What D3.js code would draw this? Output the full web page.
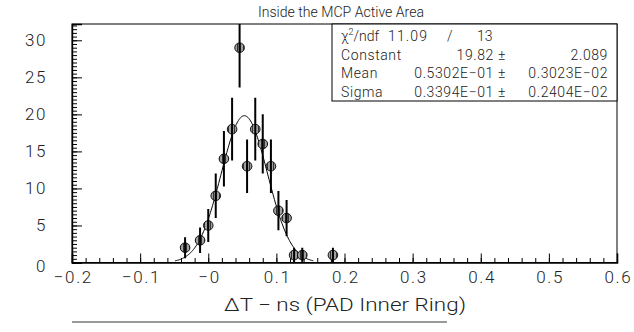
<!DOCTYPE html>
<html>
<head>
<meta charset="utf-8">
<script src="https://d3js.org/d3.v7.min.js"></script>
<style>
  body { margin: 0; background: #fff; }
  svg text { font-family: Roboto, "Liberation Sans", sans-serif; font-weight: 300; fill: #222; }
</style>
</head>
<body>
<svg width="634" height="332"></svg>
<script>
// bin centres (ns) and entries
var binX = [-0.034, -0.012, 0.000, 0.011, 0.023, 0.035, 0.046, 0.057,
            0.069, 0.080, 0.092, 0.103, 0.115, 0.126, 0.138, 0.183];
var counts = [2, 3, 5, 9, 14, 18, 29, 13, 18, 16, 13, 7, 6, 1, 1, 1];

var xTicks = [-0.2, -0.1, 0, 0.1, 0.2, 0.3, 0.4, 0.5, 0.6];
var xTickLabels = ["\u22120.2", "\u22120.1", "\u22120", "0.1", "0.2", "0.3", "0.4", "0.5", "0.6"];
var yTicks = [0, 5, 10, 15, 20, 25, 30];

// gaussian fit parameters (stats box)
var fitConst = 19.82, fitMean = 0.05302, fitSigma = 0.03394;
var statsRows = [
  ["Constant", "19.82 \u00b1", "2.089"],
  ["Mean", "0.5302E\u221201 \u00b1", "0.3023E\u221202"],
  ["Sigma", "0.3394E\u221201 \u00b1", "0.2404E\u221202"]
];

var pLeft = 72, pRight = 617, pTop = 24, pBottom = 262.5;

var svg = d3.select("svg");

var x = d3.scaleLinear().domain([-0.2, 0.6]).range([pLeft, pRight]);
var y = d3.scaleLinear().domain([0, 32.2]).range([pBottom, pTop]);

var defs = svg.append("defs");
defs.append("clipPath").attr("id", "clip")
  .append("rect").attr("x", pLeft).attr("y", pTop)
  .attr("width", pRight - pLeft).attr("height", pBottom - pTop);

// striped marker fill
var pat = defs.append("pattern").attr("id", "stripe")
  .attr("patternUnits", "userSpaceOnUse").attr("width", 3).attr("height", 3);
pat.append("rect").attr("width", 3).attr("height", 3).attr("fill", "#a0a0a0");
pat.append("rect").attr("width", 1).attr("height", 3).attr("fill", "#333");

// frame
svg.append("rect")
  .attr("x", pLeft).attr("y", pTop)
  .attr("width", pRight - pLeft).attr("height", pBottom - pTop)
  .attr("fill", "none").attr("stroke", "#000").attr("stroke-width", 1);

// minor ticks
svg.append("g")
  .attr("transform", "translate(0," + pBottom + ")")
  .call(d3.axisBottom(x).tickValues(d3.range(-0.2, 0.6001, 0.02)).tickSize(-4.5).tickFormat(""))
  .call(function(g) { g.select(".domain").remove(); });
svg.append("g")
  .attr("transform", "translate(" + pLeft + ",0)")
  .call(d3.axisLeft(y).tickValues(d3.range(0, 32.01, 0.5)).tickSize(-5).tickFormat(""))
  .call(function(g) { g.select(".domain").remove(); });

// major ticks + labels
var xAxis = svg.append("g")
  .attr("transform", "translate(0," + pBottom + ")")
  .call(d3.axisBottom(x).tickValues(xTicks).tickSize(-9).tickPadding(6)
    .tickFormat(function(d, i) { return xTickLabels[i]; }));
xAxis.select(".domain").attr("stroke-width", 1.6);
xAxis.selectAll("text").attr("font-size", 17).attr("dy", "0.85em")
  .style("letter-spacing", "1.6px").attr("dx", 0.8);

var yAxis = svg.append("g")
  .attr("transform", "translate(" + pLeft + ",0)")
  .call(d3.axisLeft(y).tickValues(yTicks).tickSize(-10).tickPadding(25));
yAxis.select(".domain").attr("stroke-width", 1.4);
yAxis.selectAll("text").attr("font-size", 17).style("letter-spacing", "1.6px");
yAxis.selectAll(".tick").filter(function(d) { return d === 0; })
  .select("text").attr("dy", "0.55em");

svg.selectAll(".tick line").attr("stroke", "#000");
svg.selectAll(".domain").attr("stroke", "#000");

// fitted gaussian
var curveX = d3.range(fitMean - 3 * fitSigma, fitMean + 3 * fitSigma, 0.001);
var line = d3.line()
  .x(function(d) { return x(d); })
  .y(function(d) { return y(fitConst * Math.exp(-0.5 * Math.pow((d - fitMean) / fitSigma, 2))); });
svg.append("path")
  .datum(curveX)
  .attr("d", line)
  .attr("fill", "none")
  .attr("stroke", "#000")
  .attr("stroke-width", 1);

// data points
var pts = svg.append("g").attr("clip-path", "url(#clip)")
  .selectAll("g").data(binX).enter().append("g");

pts.append("circle")
  .attr("cx", function(d) { return x(d); })
  .attr("cy", function(d, i) { return y(counts[i]); })
  .attr("r", 4.8)
  .attr("fill", "url(#stripe)")
  .attr("stroke", "#111")
  .attr("stroke-width", 1);

pts.append("line")
  .attr("x1", function(d) { return x(d); })
  .attr("x2", function(d) { return x(d); })
  .attr("y1", function(d, i) { return y(counts[i] - Math.sqrt(counts[i])); })
  .attr("y2", function(d, i) { return y(counts[i] + Math.sqrt(counts[i])); })
  .attr("stroke", "#000")
  .attr("stroke-width", 2);

// stats box
var boxL = 332, boxB = 101;
svg.append("rect")
  .attr("x", boxL).attr("y", pTop)
  .attr("width", pRight - boxL).attr("height", boxB - pTop)
  .attr("fill", "#fff").attr("stroke", "#000").attr("stroke-width", 1);

var fs = 14;
var chi = svg.append("text").attr("x", 341).attr("y", 41).attr("font-size", fs);
chi.append("tspan").text("\u03c7");
chi.append("tspan").attr("font-size", 9).attr("dy", -6).text("2");
chi.append("tspan").attr("dy", 6).text("/ndf");
svg.append("text").attr("x", 388).attr("y", 41).attr("font-size", fs)
  .attr("textLength", 39).text("11.09");
svg.append("text").attr("x", 447).attr("y", 41).attr("font-size", fs).text("/");
svg.append("text").attr("x", 477).attr("y", 41).attr("font-size", fs).text("13");

statsRows.forEach(function(r, i) {
  var yy = 59.5 + i * 18.5;
  svg.append("text").attr("x", 341).attr("y", yy).attr("font-size", fs)
    .style("letter-spacing", "0.6px").text(r[0]);
  svg.append("text").attr("x", 506).attr("y", yy).attr("font-size", fs)
    .attr("text-anchor", "end").style("letter-spacing", "0.6px").text(r[1]);
  svg.append("text").attr("x", 608).attr("y", yy).attr("font-size", fs)
    .attr("text-anchor", "end").style("letter-spacing", "0.6px").text(r[2]);
});

// title
svg.append("text")
  .attr("x", 341).attr("y", 17)
  .attr("text-anchor", "middle").attr("font-size", 14)
  .attr("textLength", 166).attr("lengthAdjust", "spacingAndGlyphs")
  .text("Inside the MCP Active Area");

// x title
svg.append("text")
  .attr("x", 345).attr("y", 311)
  .attr("text-anchor", "middle").attr("font-size", 18)
  .attr("textLength", 242).attr("lengthAdjust", "spacingAndGlyphs")
  .text("\u0394T \u2212 ns (PAD Inner Ring)");

svg.append("line")
  .attr("x1", 72).attr("x2", 447).attr("y1", 322).attr("y2", 322)
  .attr("stroke", "#999").attr("stroke-width", 2);
</script>
</body>
</html>
